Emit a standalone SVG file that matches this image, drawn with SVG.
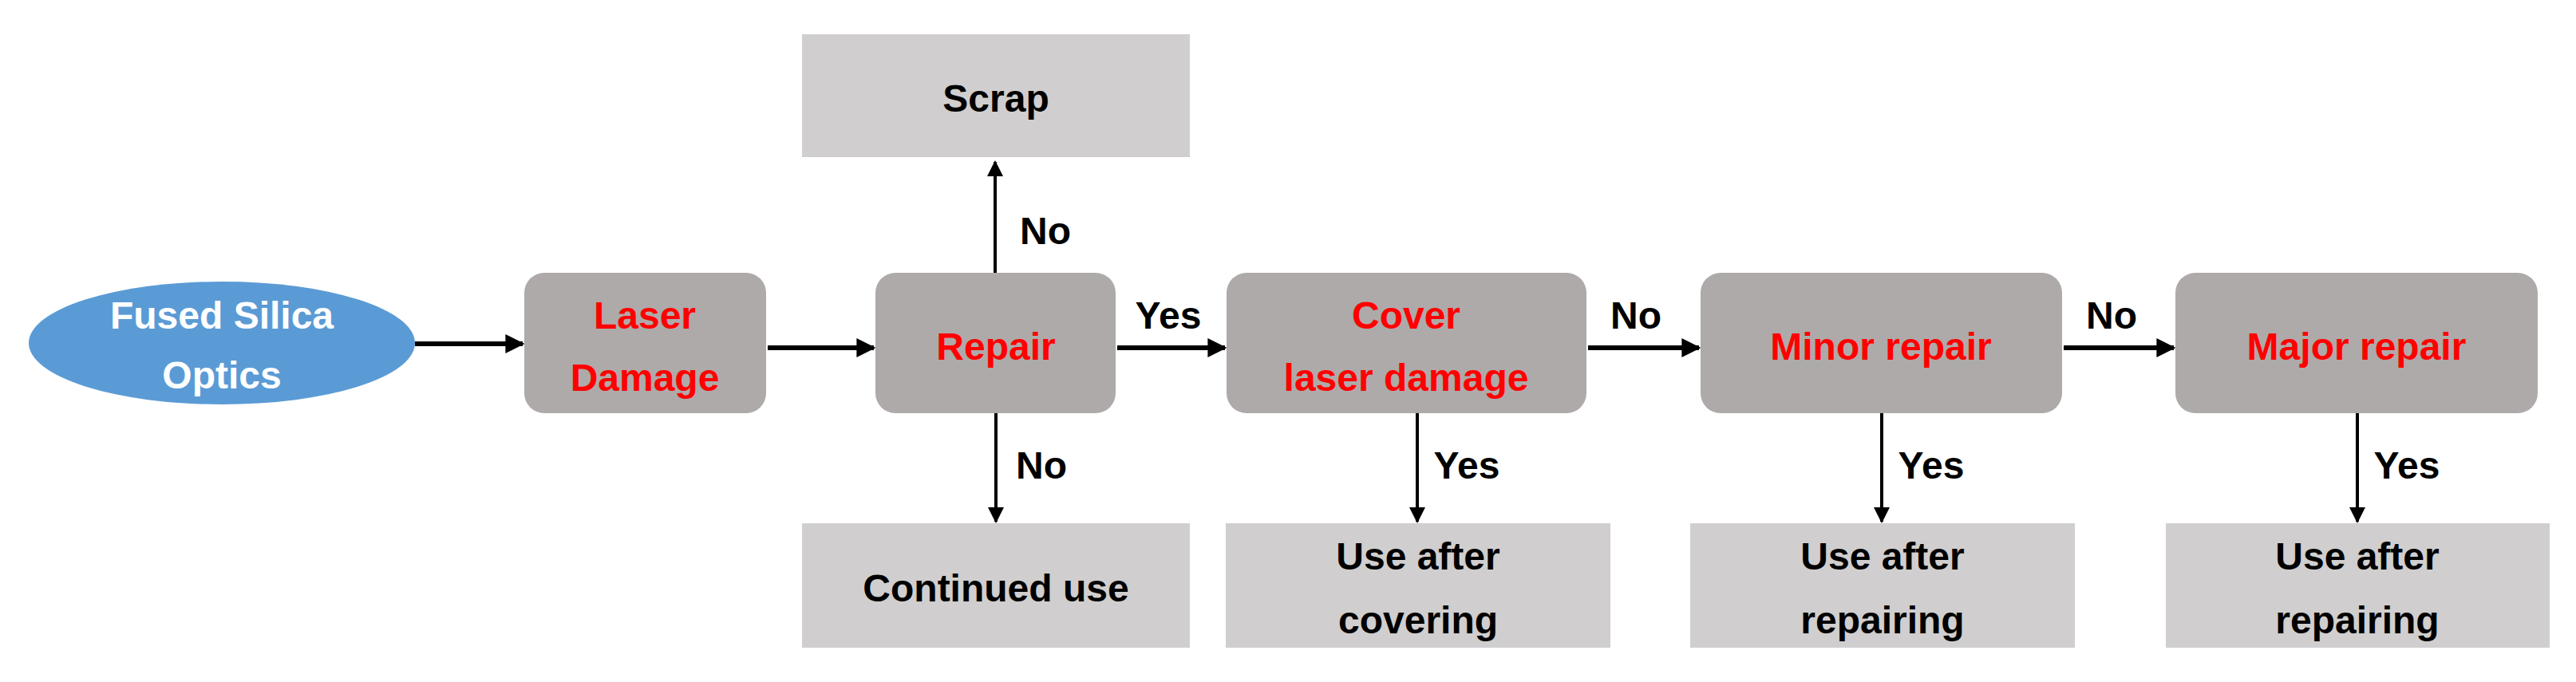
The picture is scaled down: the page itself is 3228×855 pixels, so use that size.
<svg xmlns="http://www.w3.org/2000/svg" width="3228" height="855" viewBox="0 0 3228 855">
<style>
text{font-family:"Liberation Sans",Arial,sans-serif;font-weight:bold;font-size:48px;text-anchor:middle;dominant-baseline:central}
.p{fill:#AEAAAA}
.o{fill:#D0CECE}
.r{fill:#FF0000}
.k{fill:#000}
.w{fill:#fff}
.c{stroke:#000;fill:none}
</style>
<defs>
<marker id="a" viewBox="0 0 10 10" refX="9" refY="5" markerWidth="5" markerHeight="5" orient="auto" markerUnits="strokeWidth"><path d="M0,0L10,5L0,10z" fill="#000"/></marker>
<marker id="b" viewBox="0 0 10 10" refX="9" refY="5" markerWidth="4" markerHeight="4" orient="auto" markerUnits="strokeWidth"><path d="M0,0L10,5L0,10z" fill="#000"/></marker>
</defs>
<g id="connectors">
<line class="c" stroke-width="6" x1="520" y1="431" x2="655" y2="431" marker-end="url(#b)"/>
<line class="c" stroke-width="6" x1="962" y1="436" x2="1095" y2="436" marker-end="url(#b)"/>
<line class="c" stroke-width="6" x1="1400" y1="436" x2="1535" y2="436" marker-end="url(#b)"/>
<line class="c" stroke-width="6" x1="1990" y1="436" x2="2129" y2="436" marker-end="url(#b)"/>
<line class="c" stroke-width="6" x1="2586" y1="436" x2="2724" y2="436" marker-end="url(#b)"/>
<line class="c" stroke-width="4" x1="1247" y1="342" x2="1247" y2="203" marker-end="url(#a)"/>
<line class="c" stroke-width="4" x1="1248" y1="518" x2="1248" y2="654" marker-end="url(#a)"/>
<line class="c" stroke-width="4" x1="1776" y1="518" x2="1776" y2="654" marker-end="url(#a)"/>
<line class="c" stroke-width="4" x1="2358" y1="518" x2="2358" y2="654" marker-end="url(#a)"/>
<line class="c" stroke-width="4" x1="2954" y1="518" x2="2954" y2="654" marker-end="url(#a)"/>
<text class="k" x="1310" y="289">No</text>
<text class="k" x="1464" y="395">Yes</text>
<text class="k" x="1305" y="583">No</text>
<text class="k" x="2050" y="395">No</text>
<text class="k" x="2646" y="395">No</text>
<text class="k" x="1838" y="583">Yes</text>
<text class="k" x="2420" y="583">Yes</text>
<text class="k" x="3016" y="583">Yes</text>
</g>
<g id="fused"><ellipse cx="278" cy="430" rx="242" ry="77" fill="#5B9BD5"/><text class="w" x="278" y="395">Fused Silica</text><text class="w" x="278" y="470">Optics</text></g>
<g id="laser"><rect class="p" x="657" y="342" width="303" height="176" rx="25"/><text class="r" x="808" y="395">Laser</text><text class="r" x="808" y="473">Damage</text></g>
<g id="repair"><rect class="p" x="1097" y="342" width="301" height="176" rx="25"/><text class="r" x="1248" y="434">Repair</text></g>
<g id="cover"><rect class="p" x="1537" y="342" width="451" height="176" rx="25"/><text class="r" x="1762" y="395">Cover</text><text class="r" x="1762" y="473">laser damage</text></g>
<g id="minor"><rect class="p" x="2131" y="342" width="453" height="176" rx="25"/><text class="r" x="2357" y="434">Minor repair</text></g>
<g id="major"><rect class="p" x="2726" y="342" width="454" height="176" rx="25"/><text class="r" x="2953" y="434">Major repair</text></g>
<g id="scrap"><rect class="o" x="1005" y="43" width="486" height="154"/><text class="k" x="1248" y="123">Scrap</text></g>
<g id="continued"><rect class="o" x="1005" y="656" width="486" height="156"/><text class="k" x="1248" y="737">Continued use</text></g>
<g id="usecover"><rect class="o" x="1536" y="656" width="482" height="156"/><text class="k" x="1777" y="697">Use after</text><text class="k" x="1777" y="777">covering</text></g>
<g id="useminor"><rect class="o" x="2118" y="656" width="482" height="156"/><text class="k" x="2359" y="697">Use after</text><text class="k" x="2359" y="777">repairing</text></g>
<g id="usemajor"><rect class="o" x="2714" y="656" width="481" height="156"/><text class="k" x="2954" y="697">Use after</text><text class="k" x="2954" y="777">repairing</text></g>
</svg>
